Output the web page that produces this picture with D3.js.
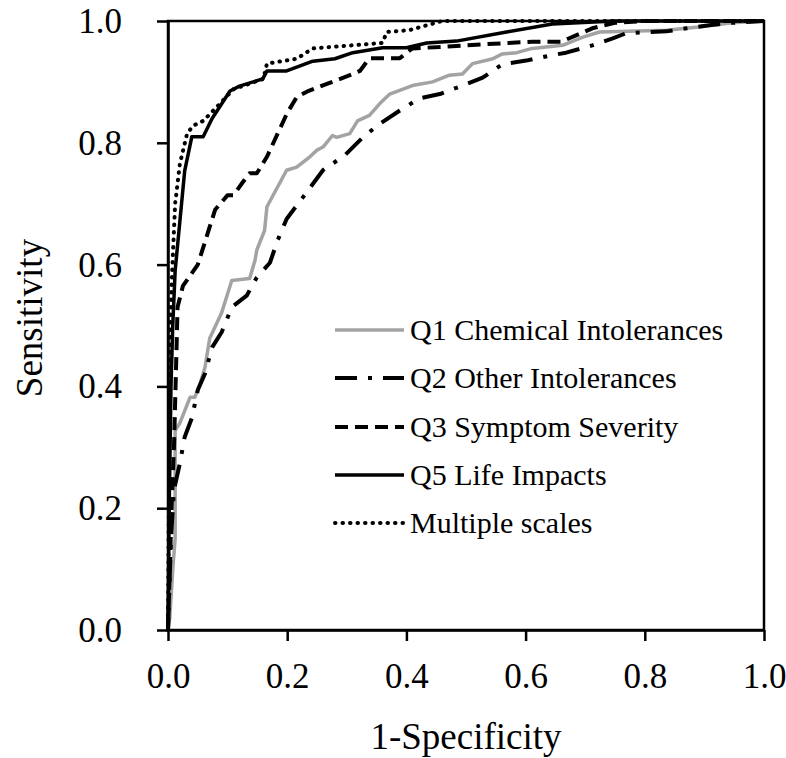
<!DOCTYPE html>
<html>
<head>
<meta charset="utf-8">
<script src="https://cdn.jsdelivr.net/npm/d3@7/dist/d3.min.js"></script>
<style>
html,body{margin:0;padding:0;background:#fff;}
svg{display:block;}
text{font-family:"Liberation Serif","Times New Roman",serif;fill:#000;}
</style>
</head>
<body>
<svg id="chart" width="786" height="758"></svg>
<script>
// ---- data ----
const seriesNames = ["Q1 Chemical Intolerances","Q2 Other Intolerances","Q3 Symptom Severity","Q5 Life Impacts","Multiple scales"];
const xTicks = [0.0,0.2,0.4,0.6,0.8,1.0];
const yTicks = [0.0,0.2,0.4,0.6,0.8,1.0];

const q1X = [0,0.003,0.008,0.012,0.012,0.02,0.037,0.045,0.054,0.062,0.07,0.09,0.107,0.137,0.146,0.149,0.162,0.166,0.199,0.216,0.238,0.25,0.26,0.276,0.283,0.305,0.318,0.338,0.355,0.372,0.41,0.444,0.472,0.494,0.511,0.545,0.561,0.585,0.611,0.662,0.695,0.724,0.836,0.89,0.946,1.0];
const q1Y = [0,0.02,0.1,0.15,0.328,0.34,0.382,0.382,0.405,0.431,0.479,0.521,0.574,0.577,0.607,0.624,0.656,0.695,0.755,0.76,0.777,0.788,0.793,0.812,0.809,0.815,0.836,0.845,0.864,0.88,0.894,0.9,0.911,0.913,0.93,0.938,0.946,0.948,0.955,0.96,0.973,0.982,0.985,0.99,0.997,1.0];

const q2X = [0,0.005,0.01,0.02,0.028,0.04,0.05,0.062,0.074,0.09,0.107,0.132,0.149,0.171,0.184,0.199,0.226,0.26,0.296,0.327,0.355,0.389,0.422,0.456,0.494,0.528,0.561,0.601,0.64,0.668,0.712,0.745,0.769,0.836,0.87,0.908,0.946,1.0];
const q2Y = [0,0.15,0.23,0.274,0.317,0.348,0.394,0.421,0.464,0.489,0.53,0.549,0.579,0.603,0.64,0.675,0.71,0.755,0.779,0.809,0.831,0.853,0.873,0.88,0.894,0.907,0.929,0.935,0.943,0.948,0.96,0.971,0.98,0.983,0.988,0.993,0.997,1.0];

const q3X = [0,0.003,0.006,0.01,0.014,0.016,0.025,0.05,0.079,0.1,0.11,0.126,0.137,0.149,0.166,0.2,0.216,0.233,0.27,0.305,0.322,0.338,0.389,0.41,0.47,0.535,0.611,0.66,0.712,0.75,0.8,1.0];
const q3Y = [0,0.1,0.2,0.3,0.45,0.53,0.565,0.6,0.69,0.714,0.714,0.736,0.75,0.75,0.777,0.849,0.875,0.884,0.898,0.911,0.918,0.939,0.939,0.955,0.958,0.962,0.966,0.966,0.988,0.997,1.0,1.0];

const q5X = [0,0.002,0.005,0.008,0.012,0.028,0.04,0.059,0.074,0.104,0.12,0.159,0.166,0.199,0.243,0.28,0.31,0.36,0.4,0.434,0.484,0.568,0.645,0.75,1.0];
const q5Y = [0,0.2,0.4,0.5,0.59,0.754,0.81,0.81,0.84,0.885,0.893,0.905,0.918,0.918,0.934,0.938,0.948,0.956,0.956,0.964,0.967,0.982,0.995,1.0,1.0];

const multX = [0,0.002,0.004,0.007,0.012,0.02,0.032,0.042,0.059,0.079,0.11,0.16,0.166,0.216,0.243,0.36,0.367,0.405,0.46,1.0];
const multY = [0,0.3,0.5,0.59,0.7,0.766,0.815,0.828,0.836,0.856,0.888,0.905,0.93,0.938,0.955,0.964,0.982,0.985,1.0,1.0];

const seriesX = [q1X,q2X,q3X,q5X,multX];
const seriesY = [q1Y,q2Y,q3Y,q5Y,multY];

// ---- styles ----
const styles = [
  {color:"#a3a3a3", width:3.5, dash:null, cap:"butt"},
  {color:"#000", width:4, dash:"22,11,4,11", cap:"butt"},
  {color:"#000", width:4, dash:"13,7", cap:"butt"},
  {color:"#000", width:3.5, dash:null, cap:"butt"},
  {color:"#000", width:4, dash:"0.5,7", cap:"round"}
];

const svg = d3.select("#chart");
const x = d3.scaleLinear().domain([0,1]).range([168,764]);
const y = d3.scaleLinear().domain([0,1]).range([630,21]);

// frame
svg.append("rect").attr("x",x(0)).attr("y",y(1)).attr("width",x(1)-x(0)).attr("height",y(0)-y(1))
  .attr("fill","none").attr("stroke","#000").attr("stroke-width",2.5);

// axes
const fmt = d3.format(".1f");
const gx = svg.append("g").attr("transform",`translate(0,${y(0)})`)
  .call(d3.axisBottom(x).tickValues(xTicks).tickFormat(fmt).tickSize(11).tickSizeOuter(0));
gx.select(".domain").attr("stroke-width",2.5);
gx.selectAll(".tick line").attr("stroke-width",2.5);
gx.selectAll(".tick text").attr("y",58).attr("dy",0).style("font-size","35px").style("font-family","Liberation Serif").attr("fill","#000");

const gy = svg.append("g").attr("transform",`translate(${x(0)},0)`)
  .call(d3.axisLeft(y).tickValues(yTicks).tickFormat(fmt).tickSize(11).tickSizeOuter(0));
gy.select(".domain").attr("stroke-width",2.5);
gy.selectAll(".tick line").attr("stroke-width",2.5);
gy.selectAll(".tick text").attr("x",-46).attr("dy","0.33em").style("font-size","35px").style("font-family","Liberation Serif").attr("fill","#000");

// axis titles
svg.append("text").attr("x",(x(0)+x(1))/2).attr("y",749).attr("text-anchor","middle")
  .style("font-size","37px").text("1-Specificity");
svg.append("text").attr("transform","translate(42,318) rotate(-90)").attr("text-anchor","middle")
  .style("font-size","37px").text("Sensitivity");

// curves
const line = d3.line().x(d=>x(d[0])).y(d=>y(d[1]));
seriesNames.forEach((name,i)=>{
  const pts = seriesX[i].map((v,j)=>[v,seriesY[i][j]]);
  const s = styles[i];
  svg.append("path").datum(pts).attr("d",line)
    .attr("fill","none").attr("stroke",s.color).attr("stroke-width",s.width)
    .attr("stroke-dasharray",s.dash).attr("stroke-linecap",s.cap).attr("stroke-linejoin","round");
});

// legend
const legRows = [330,378,427,475,523];
seriesNames.forEach((name,i)=>{
  const s = styles[i];
  const g = svg.append("g");
  g.append("line").attr("x1",335).attr("x2",404).attr("y1",legRows[i]).attr("y2",legRows[i])
    .attr("stroke",s.color).attr("stroke-width",s.width).attr("stroke-dasharray",s.dash).attr("stroke-linecap",s.cap);
  g.append("text").attr("x",410).attr("y",legRows[i]+10).style("font-size","30px").text(name);
});
</script>
</body>
</html>
